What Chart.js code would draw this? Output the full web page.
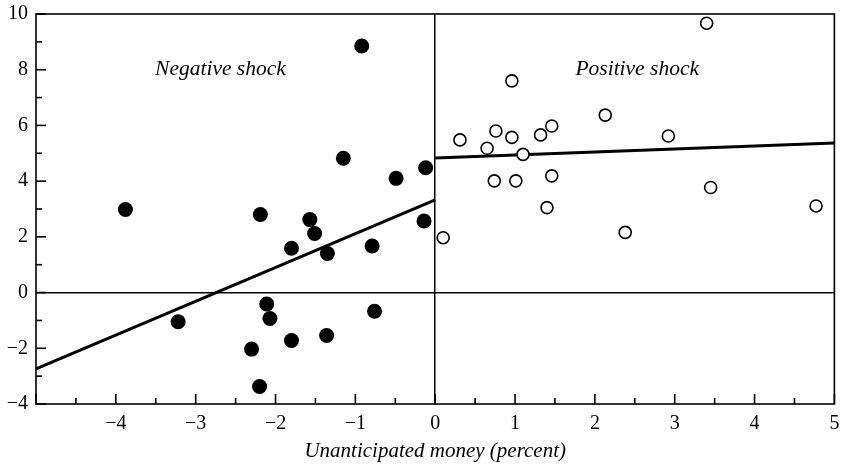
<!DOCTYPE html>
<html>
<head>
<meta charset="utf-8">
<script src="https://cdn.jsdelivr.net/npm/chart.js@4"></script>
<style>
  html, body { margin: 0; padding: 0; background: #fff; }
  #wrap { width: 842px; height: 464px; }
</style>
</head>
<body>
<div id="wrap"><canvas id="chart" width="842" height="464"></canvas></div>
<script>
// Negative money shocks (filled dots)
const negX = [-3.88, -3.22, -0.92, -1.15, -0.49, -0.12, -0.14, -2.19, -1.57, -1.51, -1.80, -1.35, -0.79, -2.11, -2.07, -0.76, -1.80, -1.36, -2.30, -2.20];
const negY = [2.98, -1.05, 8.85, 4.82, 4.10, 4.48, 2.57, 2.80, 2.62, 2.12, 1.59, 1.40, 1.67, -0.41, -0.93, -0.67, -1.72, -1.54, -2.03, -3.37];

// Positive money shocks (open circles)
const posX = [3.40, 0.96, 2.13, 0.31, 0.76, 0.96, 0.65, 1.10, 1.32, 1.46, 2.92, 0.74, 1.01, 1.46, 1.40, 3.45, 4.77, 2.38, 0.10];
const posY = [9.67, 7.60, 6.37, 5.48, 5.80, 5.57, 5.18, 4.96, 5.66, 5.98, 5.62, 4.01, 4.01, 4.19, 3.05, 3.77, 3.11, 2.16, 1.97];

// Fitted lines (end points)
const negFitX = [-5, 0];
const negFitY = [-2.74, 3.33];
const posFitX = [0, 5];
const posFitY = [4.83, 5.37];

const xMin = -5, xMax = 5;
const yMin = -4, yMax = 10;

const toPoints = (xs, ys) => xs.map((x, i) => ({ x: x, y: ys[i] }));
const minus = v => (v < 0 ? "\u2212" + Math.abs(v) : String(v));

const serif = "'Liberation Serif', 'DejaVu Serif', serif";

// frame, inward ticks and panel labels
const framePlugin = {
  id: "frame",
  afterDraw(chart) {
    const { ctx, chartArea: a, scales } = chart;
    ctx.save();
    ctx.strokeStyle = "#000";
    ctx.lineWidth = 1.6;
    ctx.strokeRect(a.left, a.top, a.right - a.left, a.bottom - a.top);

    // x ticks (pointing up)
    scales.x.ticks.forEach(t => {
      const px = scales.x.getPixelForValue(t.value);
      const major = Number.isInteger(t.value);
      ctx.beginPath();
      ctx.moveTo(px, a.bottom);
      ctx.lineTo(px, a.bottom - (major ? 10 : 6));
      ctx.stroke();
    });
    // y ticks (pointing right)
    scales.y.ticks.forEach(t => {
      const py = scales.y.getPixelForValue(t.value);
      const major = t.value % 2 === 0;
      ctx.beginPath();
      ctx.moveTo(a.left, py);
      ctx.lineTo(a.left + (major ? 10 : 6), py);
      ctx.stroke();
    });

    ctx.fillStyle = "#000";
    ctx.font = "italic 21.5px " + serif;
    ctx.textAlign = "center";
    ctx.textBaseline = "middle";
    ctx.fillText("Negative shock", scales.x.getPixelForValue(-2.69), scales.y.getPixelForValue(8.0));
    ctx.fillText("Positive shock", scales.x.getPixelForValue(2.53), scales.y.getPixelForValue(8.0));
    ctx.restore();
  }
};

new Chart(document.getElementById("chart"), {
  type: "scatter",
  data: {
    datasets: [
      {
        label: "Negative shock",
        data: toPoints(negX, negY),
        pointRadius: 7.5,
        pointBackgroundColor: "#000",
        pointBorderColor: "#000",
        pointBorderWidth: 0
      },
      {
        label: "Positive shock",
        data: toPoints(posX, posY),
        pointRadius: 6,
        pointBackgroundColor: "#fff",
        pointBorderColor: "#000",
        pointBorderWidth: 1.6
      },
      {
        type: "line",
        label: "Negative fit",
        data: toPoints(negFitX, negFitY),
        borderColor: "#000",
        borderWidth: 3,
        pointRadius: 0,
        fill: false
      },
      {
        type: "line",
        label: "Positive fit",
        data: toPoints(posFitX, posFitY),
        borderColor: "#000",
        borderWidth: 3,
        pointRadius: 0,
        fill: false
      }
    ]
  },
  options: {
    responsive: false,
    animation: false,
    layout: { padding: { top: 14, right: 7, left: 0, bottom: 0 } },
    plugins: {
      legend: { display: false },
      tooltip: { enabled: false }
    },
    scales: {
      x: {
        type: "linear",
        min: xMin,
        max: xMax,
        afterFit: s => { s.height = 60; s.paddingLeft = 0; s.paddingRight = 0; },
        border: { display: false },
        grid: {
          drawTicks: false,
          color: c => (c.tick && c.tick.value === 0 ? "#000" : "transparent"),
          lineWidth: 1.5
        },
        ticks: {
          stepSize: 0.5,
          autoSkip: false,
          maxRotation: 0,
          padding: 8,
          color: "#000",
          font: { family: serif, size: 20 },
          callback: v => (Number.isInteger(v) && v !== xMin ? minus(v) : "")
        },
        title: {
          display: true,
          text: "Unanticipated money (percent)",
          color: "#000",
          font: { family: serif, size: 21, style: "italic" },
          padding: { top: 3, bottom: 0 }
        }
      },
      y: {
        type: "linear",
        min: yMin,
        max: yMax,
        afterFit: s => { s.width = 36; s.paddingTop = 0; s.paddingBottom = 0; },
        border: { display: false },
        grid: {
          drawTicks: false,
          color: c => (c.tick && c.tick.value === 0 ? "#000" : "transparent"),
          lineWidth: 1.5
        },
        ticks: {
          stepSize: 1,
          autoSkip: false,
          padding: 8,
          color: "#000",
          font: { family: serif, size: 20 },
          callback: v => (v % 2 === 0 ? minus(v) : "")
        }
      }
    }
  },
  plugins: [framePlugin]
});
</script>
</body>
</html>
